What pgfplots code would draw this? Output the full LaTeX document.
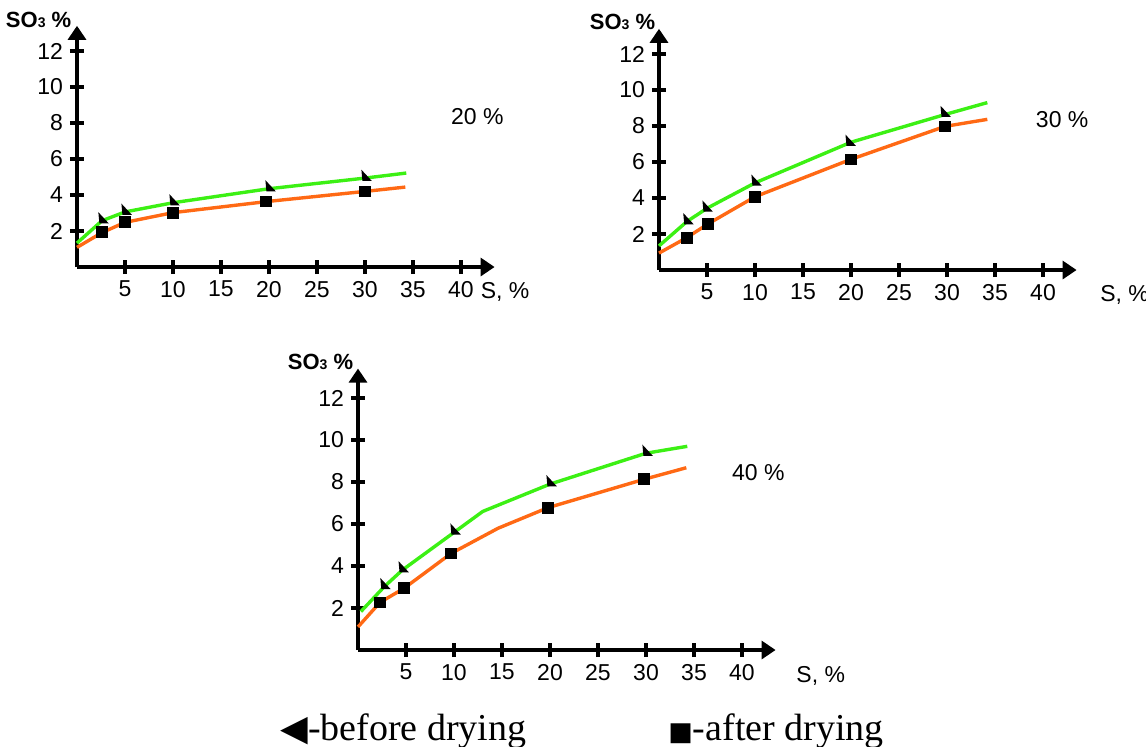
\documentclass[border=0pt]{standalone}
\usepackage{fontspec}
\setmainfont{Liberation Sans}
\newfontfamily\timesfont{Liberation Serif}
\newfontfamily\symfont{DejaVu Sans}
\usepackage{pgfplots}
\pgfplotsset{compat=1.18}
\usetikzlibrary{arrows.meta}

\definecolor{before}{RGB}{60,240,20}
\definecolor{after}{RGB}{255,105,20}

% small black "sail" triangle used for the before-drying points
\pgfdeclareplotmark{sail}{%
  \pgfpathmoveto{\pgfqpoint{-1.8pt}{4.0pt}}%
  \pgfpathlineto{\pgfqpoint{-1.3pt}{-1.6pt}}%
  \pgfpathlineto{\pgfqpoint{3.4pt}{-1.6pt}}%
  \pgfpathclose
  \pgfusepathqfill}

\pgfplotsset{
  panel/.style={
    axis lines=left,
    axis line style={line width=1.6pt, -{Triangle[length=7pt,width=9pt]}},
    x=4.8pt,
    xmin=0, xmax=43.5, ymin=0, ymax=13.4,
    xtick={5,10,...,40}, ytick={2,4,...,12},
    tick align=center, major tick length=7pt,
    tick style={black, line width=1.6pt},
    ticklabel style={font=\fontsize{11.5}{13}\selectfont},
    /pgf/number format/assume math mode=true,
    clip=false,
    anchor=origin,
  },
  bline/.style={before, line width=1.7pt, no markers},
  aline/.style={after, line width=1.7pt, no markers},
  bmark/.style={only marks, mark=sail, black},
  amark/.style={only marks, mark=square*, mark size=2.7pt, black},
}
\newcommand{\soth}{{\bfseries\fontsize{11}{13}\selectfont SO{\fontsize{7}{8}\selectfont 3} \%}}
\newcommand{\lab}{\fontsize{11.5}{13}\selectfont}

\begin{document}
\begin{tikzpicture}
\useasboundingbox (0,0) rectangle (573pt,-373pt);

% ---- 20 %
\begin{axis}[panel, y=9pt, at={(38.5pt,-133.5pt)}]
\addplot[bline] coordinates {(0,1.33) (2.6,2.57) (5,3.06) (10,3.57) (20,4.35) (30,4.94) (34.3,5.22)};
\addplot[aline] coordinates {(0,1.09) (2.6,1.91) (5,2.48) (10,3.02) (20,3.65) (30,4.2) (34.2,4.44)};
\addplot[bmark] coordinates {(2.6,2.6) (5,3.08) (10,3.6) (20,4.38) (30,4.96)};
\addplot[amark] coordinates {(2.6,1.93) (5,2.5) (10,3.02) (19.7,3.65) (30,4.2)};
\node at (axis cs:-4.0,13.75) {\soth};
\node[font=\lab] at (axis cs:41.7,8.33) {20 \%};
\node[font=\lab] at (axis cs:44.6,-1.4) {S, \%};
\end{axis}

% ---- 30 %
\begin{axis}[panel, y=9pt, at={(329.5pt,-135pt)}]
\addplot[bline] coordinates {(0,1.34) (2.9,2.69) (5,3.43) (10,4.84) (20,7.1) (30,8.67) (34.2,9.3)};
\addplot[aline] coordinates {(0,0.94) (2.9,1.8) (5.1,2.56) (10,4.07) (20,6.15) (29.8,7.98) (34.2,8.37)};
\addplot[bmark] coordinates {(2.9,2.72) (4.9,3.42) (10,4.86) (19.8,7.08) (29.7,8.68)};
\addplot[amark] coordinates {(2.9,1.8) (5.1,2.56) (10,4.07) (20,6.15) (29.8,7.98)};
\node at (axis cs:-3.8,13.8) {\soth};
\node[font=\lab] at (axis cs:42,8.33) {30 \%};
\node[font=\lab] at (axis cs:48.5,-1.4) {S, \%};
\end{axis}

% ---- 40 %
\begin{axis}[panel, y=10.5pt, at={(179pt,-325pt)}]
\addplot[bline] coordinates {(0.3,1.83) (2.7,3.0) (4.6,3.8) (10,5.6) (13,6.6) (20,7.9) (30,9.37) (34.3,9.7)};
\addplot[aline] coordinates {(0,1.1) (2.3,2.27) (4.8,2.94) (9.7,4.6) (14.6,5.8) (19.8,6.78) (29.8,8.13) (34.2,8.68)};
\addplot[bmark] coordinates {(2.7,3.05) (4.6,3.85) (10,5.65) (20,7.95) (30,9.4)};
\addplot[amark] coordinates {(2.3,2.27) (4.8,2.94) (9.7,4.6) (19.8,6.78) (29.8,8.13)};
\node at (axis cs:-3.9,13.7) {\soth};
\node[font=\lab] at (axis cs:41.7,8.43) {40 \%};
\node[font=\lab] at (axis cs:48.2,-1.25) {S, \%};
\end{axis}

% legend line
\node[anchor=base west, inner sep=0pt, font=\timesfont\fontsize{19}{21}\selectfont]
  at (140pt,-370pt) {{\symfont\fontsize{18}{20}\selectfont ◀}-before drying};
\node[anchor=base west, inner sep=0pt, font=\timesfont\fontsize{19}{21}\selectfont]
  at (334pt,-370pt) {{\symfont\fontsize{13}{20}\selectfont ■}-after drying};
\end{tikzpicture}
\end{document}
